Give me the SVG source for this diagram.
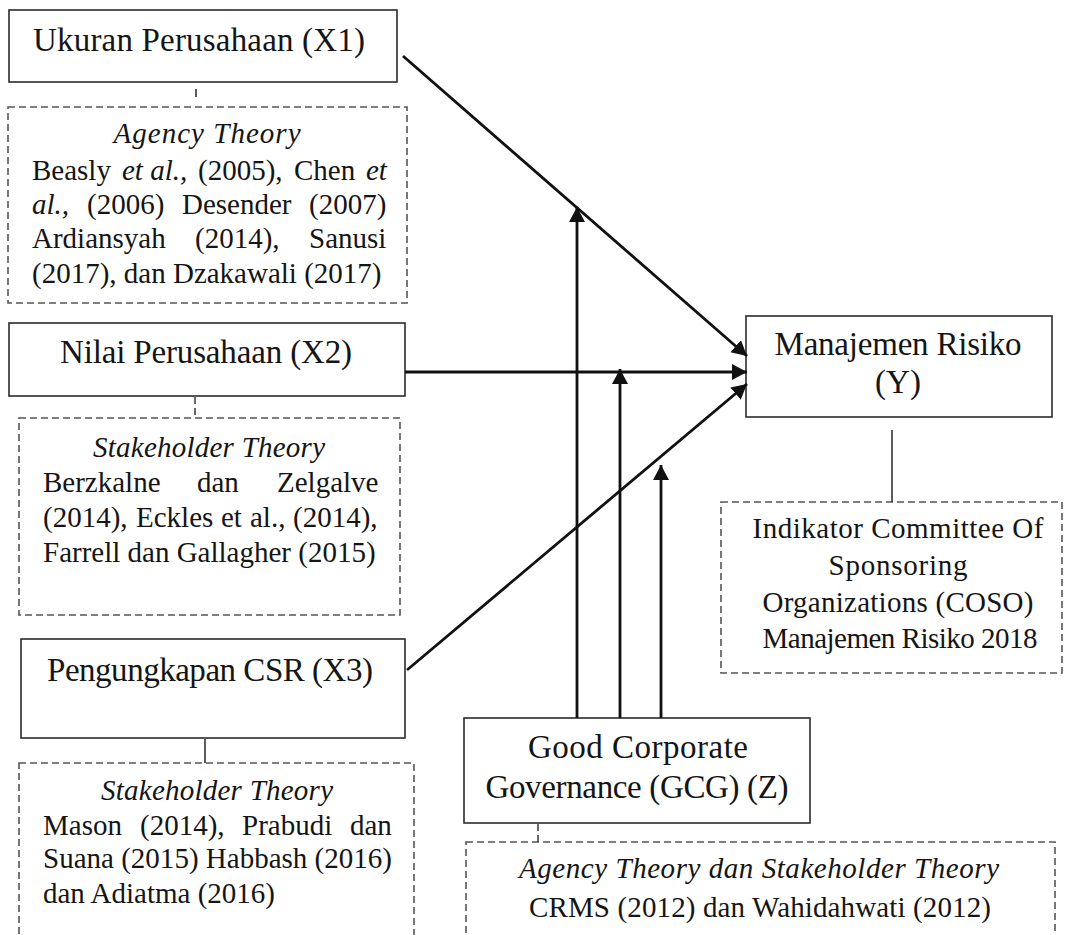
<svg xmlns="http://www.w3.org/2000/svg" width="1066" height="935" viewBox="0 0 1066 935">
<style>
text{font-family:"Liberation Serif","Times New Roman",serif;fill:#151515}
.t{font-size:33px}
.b{font-size:29px}
.i{font-style:italic}
.box{fill:#fff;stroke:#2b2b2b;stroke-width:1.6}
.dbox{fill:none;stroke:#555;stroke-width:1.6;stroke-dasharray:7 4}
.c{stroke:#111;stroke-width:2.8;fill:none}
.lk{stroke:#333;stroke-width:1.6;fill:none}
.dl{stroke:#444;stroke-width:1.6;stroke-dasharray:7 4;fill:none}
</style>
<defs>
<marker id="ar" markerUnits="userSpaceOnUse" markerWidth="17" markerHeight="17" refX="15" refY="8" orient="auto">
<path d="M0,0 L15,8 L0,16 z" fill="#111"/>
</marker>
</defs>
<rect width="1066" height="935" fill="#fff"/>

<g id="x1">
<rect class="box" x="9" y="10" width="388" height="72"/>
<text class="t" x="199" y="51" text-anchor="middle" textLength="332" lengthAdjust="spacing">Ukuran Perusahaan (X1)</text>
</g>
<g id="x1-theory">
<rect class="dbox" x="8" y="107" width="399" height="196"/>
<text class="b i" x="207" y="143" text-anchor="middle" textLength="187" lengthAdjust="spacing">Agency Theory</text>
<text class="b" y="180"><tspan x="32">Beasly</tspan><tspan x="122" class="i">et al.,</tspan><tspan x="198">(2005),</tspan><tspan x="294">Chen</tspan><tspan x="366" class="i">et</tspan></text>
<text class="b" y="214"><tspan x="32" class="i">al.,</tspan><tspan x="87">(2006)</tspan><tspan x="182">Desender</tspan><tspan x="309">(2007)</tspan></text>
<text class="b" y="248"><tspan x="32">Ardiansyah</tspan><tspan x="195">(2014),</tspan><tspan x="309">Sanusi</tspan></text>
<text class="b" x="32" y="283">(2017), dan Dzakawali (2017)</text>
</g>

<g id="x2">
<rect class="box" x="9" y="323" width="396" height="73"/>
<text class="t" x="206" y="363" text-anchor="middle" textLength="292" lengthAdjust="spacing">Nilai Perusahaan (X2)</text>
</g>
<g id="x2-theory">
<rect class="dbox" x="19" y="418" width="381" height="197"/>
<text class="b i" x="209" y="457" text-anchor="middle" textLength="232" lengthAdjust="spacing">Stakeholder Theory</text>
<text class="b" y="492"><tspan x="43">Berzkalne</tspan><tspan x="197">dan</tspan><tspan x="277">Zelgalve</tspan></text>
<text class="b" y="527"><tspan x="43">(2014),</tspan><tspan x="136">Eckles</tspan><tspan x="221">et</tspan><tspan x="250">al.,</tspan><tspan x="293">(2014),</tspan></text>
<text class="b" x="43" y="562">Farrell dan Gallagher (2015)</text>
</g>

<g id="x3">
<rect class="box" x="21" y="639" width="384" height="99"/>
<text class="t" x="210" y="681" text-anchor="middle" textLength="326" lengthAdjust="spacing">Pengungkapan CSR (X3)</text>
</g>
<g id="x3-theory">
<rect class="dbox" x="19" y="763" width="395" height="180"/>
<text class="b i" x="217" y="800" text-anchor="middle" textLength="232" lengthAdjust="spacing">Stakeholder Theory</text>
<text class="b" y="835"><tspan x="43">Mason</tspan><tspan x="140">(2014),</tspan><tspan x="242">Prabudi</tspan><tspan x="350">dan</tspan></text>
<text class="b" x="43" y="868" textLength="349" lengthAdjust="spacing">Suana (2015) Habbash (2016)</text>
<text class="b" x="43" y="903">dan Adiatma (2016)</text>
</g>

<g id="y">
<rect class="box" x="746" y="316" width="306" height="101"/>
<text class="t" x="898" y="355" text-anchor="middle" textLength="247" lengthAdjust="spacing">Manajemen Risiko</text>
<text class="t" x="898" y="393" text-anchor="middle">(Y)</text>
</g>
<g id="y-indicator">
<rect class="dbox" x="721" y="502" width="341" height="171"/>
<text class="b" x="898" y="538" text-anchor="middle" textLength="291" lengthAdjust="spacing">Indikator Committee Of</text>
<text class="b" x="898" y="575" text-anchor="middle" textLength="139" lengthAdjust="spacing">Sponsoring</text>
<text class="b" x="898" y="612" text-anchor="middle" textLength="271" lengthAdjust="spacing">Organizations (COSO)</text>
<text class="b" x="900" y="648" text-anchor="middle" textLength="275" lengthAdjust="spacing">Manajemen Risiko 2018</text>
</g>

<g id="z">
<rect class="box" x="464" y="718" width="346" height="105"/>
<text class="t" x="638" y="758" text-anchor="middle" textLength="220" lengthAdjust="spacing">Good Corporate</text>
<text class="t" x="637" y="798" text-anchor="middle" textLength="303" lengthAdjust="spacing">Governance (GCG) (Z)</text>
</g>
<g id="z-theory">
<rect class="dbox" x="466" y="842" width="589" height="100"/>
<text class="b i" x="759" y="878" text-anchor="middle" textLength="480" lengthAdjust="spacing">Agency Theory dan Stakeholder Theory</text>
<text class="b" x="760" y="917" text-anchor="middle" textLength="462" lengthAdjust="spacing">CRMS (2012) dan Wahidahwati (2012)</text>
</g>

<g id="connectors">
<line class="c" x1="403" y1="56" x2="747" y2="356" marker-end="url(#ar)"/>
<line class="c" x1="405" y1="372" x2="747" y2="372" marker-end="url(#ar)"/>
<line class="c" x1="407" y1="670" x2="747" y2="384" marker-end="url(#ar)"/>
<line class="c" x1="577" y1="718" x2="577" y2="207" marker-end="url(#ar)"/>
<line class="c" x1="620" y1="718" x2="620" y2="369" marker-end="url(#ar)"/>
<line class="c" x1="661" y1="718" x2="661" y2="465" marker-end="url(#ar)"/>
<line class="lk" x1="196" y1="89" x2="196" y2="97"/>
<line class="dl" x1="195" y1="397" x2="195" y2="418"/>
<line class="lk" x1="205" y1="739" x2="205" y2="763"/>
<line class="lk" x1="892" y1="430" x2="892" y2="502"/>
<line class="dl" x1="538" y1="824" x2="538" y2="842"/>
</g>
</svg>
